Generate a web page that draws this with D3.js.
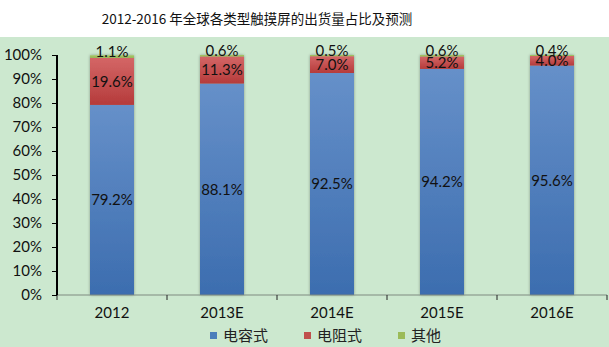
<!DOCTYPE html>
<html>
<head>
<meta charset="utf-8">
<script src="https://cdn.jsdelivr.net/npm/d3@7"></script>
<style>
  html, body { margin: 0; padding: 0; background: #fff; }
  svg { display: block; }
</style>
</head>
<body>
<svg id="chart" width="609" height="347"></svg>
<script>
// Shipment share of touch panel types, 2012-2016 (percent)
const categories = ["2012", "2013E", "2014E", "2015E", "2016E"];
const capacitive = [79.2, 88.1, 92.5, 94.2, 95.6];
const resistive = [19.6, 11.3, 7.0, 5.2, 4.0];
const others = [1.1, 0.6, 0.5, 0.6, 0.4];
const seriesNames = ["电容式", "电阻式", "其他"];
const yTicks = [0, 10, 20, 30, 40, 50, 60, 70, 80, 90, 100];

const W = 609, H = 347;
const margin = { top: 55, left: 57, right: 2, bottom: 52 };
const svg = d3.select("#chart");
const latin = "Lato, 'Open Sans', sans-serif";
const cjk = "'Noto Sans CJK SC', sans-serif";

// panel
svg.append("rect").attr("x", 0).attr("y", 37).attr("width", W).attr("height", H - 37).attr("fill", "#CCE8CF");

// title
svg.append("text").attr("x", 257).attr("y", 24).attr("text-anchor", "middle")
  .attr("font-family", cjk).attr("font-size", 13.5).attr("fill", "#111")
  .text("2012-2016 年全球各类型触摸屏的出货量占比及预测");

const x = d3.scaleBand().domain(categories).range([margin.left, W - margin.right]).paddingInner(0.6).paddingOuter(0.3);
const y = d3.scaleLinear().domain([0, 100]).range([H - margin.bottom, margin.top]);

const defs = svg.append("defs");
function grad(id, top, bottom) {
  const g = defs.append("linearGradient").attr("id", id).attr("x1", 0).attr("y1", 0).attr("x2", 0).attr("y2", 1);
  g.append("stop").attr("offset", "0%").attr("stop-color", top);
  g.append("stop").attr("offset", "100%").attr("stop-color", bottom);
}
grad("gBlue", "#6690C9", "#3C6DAF");
grad("gRed", "#D46666", "#B53B3B");
grad("gGreen", "#A8C96A", "#94B552");
const shadow = defs.append("filter").attr("id", "shadow").attr("x", "-20%").attr("width", "140%");
shadow.append("feGaussianBlur").attr("in", "SourceAlpha").attr("stdDeviation", 1.6).attr("result", "b");
shadow.append("feComponentTransfer").attr("in", "b").attr("result", "s")
  .append("feFuncA").attr("type", "linear").attr("slope", 0.35);
const m = shadow.append("feMerge");
m.append("feMergeNode").attr("in", "s");
m.append("feMergeNode").attr("in", "SourceGraphic");

const rows = categories.map((c, i) => ({ cat: c, a: capacitive[i], b: resistive[i], c: others[i] }));
const stack = d3.stack().keys(["a", "b", "c"])(rows);
const fills = ["url(#gBlue)", "url(#gRed)", "url(#gGreen)"];
const legendColors = ["#4A7EBB", "#C0504D", "#9BBB59"];

const barsG = svg.append("g").attr("filter", "url(#shadow)");
stack.forEach((layer, li) => {
  barsG.selectAll(null).data(layer).enter().append("rect")
    .attr("x", d => x(d.data.cat))
    .attr("width", x.bandwidth())
    .attr("y", d => y(d[1]))
    .attr("height", d => y(d[0]) - y(d[1]))
    .attr("fill", fills[li]);
});

// value labels, centred on their segments; the thin top segment's label sits just above
stack.forEach((layer, li) => {
  svg.selectAll(null).data(layer).enter().append("text")
    .attr("x", d => x(d.data.cat) + x.bandwidth() / 2)
    .attr("y", d => (y(d[0]) + y(d[1])) / 2 + (li === 2 ? -5 : 0))
    .attr("dy", "0.36em")
    .attr("text-anchor", "middle")
    .attr("font-family", latin).attr("font-size", 15).attr("fill", "#111")
    .text(d => (d[1] - d[0]).toFixed(1) + "%");
});

// axes
const xAxisY = y(0);
const xAxis = svg.append("g").attr("transform", `translate(0,${xAxisY})`);
xAxis.append("line").attr("x1", margin.left).attr("x2", W - margin.right).attr("stroke", "#7f8a80").attr("stroke-width", 1);
const step = x.step();
d3.range(categories.length + 1).forEach(i => {
  const tx = margin.left + i * step;
  xAxis.append("line").attr("x1", tx).attr("x2", tx).attr("y1", 0).attr("y2", 5).attr("stroke", "#222").attr("stroke-width", 1);
});
xAxis.selectAll(null).data(categories).enter().append("text")
  .attr("x", d => x(d) + x.bandwidth() / 2).attr("y", 23)
  .attr("text-anchor", "middle").attr("font-family", latin).attr("font-size", 15).attr("fill", "#111")
  .text(d => d);

const yAxis = svg.append("g").attr("transform", `translate(${margin.left},0)`)
  .call(d3.axisLeft(y).tickValues(yTicks).tickSize(5).tickFormat(d => d + "%"));
yAxis.select(".domain").attr("stroke", "#000").attr("stroke-width", 2).attr("d", `M0,${y(100)}V${y(0)}`);
yAxis.selectAll(".tick line").attr("stroke", "#000");
yAxis.selectAll(".tick text").attr("font-family", latin).attr("font-size", 15).attr("fill", "#111").attr("x", -15);

// legend
const legend = svg.append("g").attr("transform", "translate(210,336)");
const legX = [0, 94, 188];
seriesNames.forEach((n, i) => {
  legend.append("rect").attr("x", legX[i]).attr("y", -4).attr("width", 7).attr("height", 7).attr("fill", legendColors[i]);
  legend.append("text").attr("x", legX[i] + 13).attr("y", 0).attr("dy", "0.36em")
    .attr("font-family", cjk).attr("font-size", 15).attr("fill", "#222").text(n);
});
</script>
</body>
</html>
